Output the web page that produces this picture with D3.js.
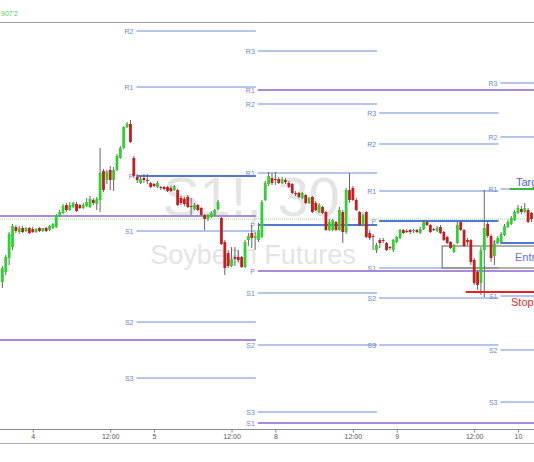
<!DOCTYPE html>
<html><head><meta charset="utf-8">
<script src="https://cdn.jsdelivr.net/npm/d3@7"></script>
<style>html,body{margin:0;padding:0;background:#fff;overflow:hidden}</style>
</head><body>
<script>
// ---- DATA (30-min bars, price in cents) ----
const firstBar = -40;
const opens = [
818,828,842,853,873,868,872,869,872,871,
868,872,869,872,870,872,873,884,887,895,
890,893,896,895,892,894,893,900,896,900,
929,920,930,920,930,942,952,973,976,942,
923,917,922,920,917,916,913,913,913,913,
912,910,910,902,901,903,894,891,895,892,
885,881,883,885,891,882,858,847,834,843,
843,843,833,860,867,862,860,863,900,916,
922,921,921,917,920,917,916,907,907,902,
905,897,903,897,888,893,888,870,870,878,
870,888,868,910,912,900,888,875,888,867,
864,850,860,860,857,853,850,858,862,870,
869,870,869,870,867,871,878,875,871,869,
873,868,863,858,848,857,878,870,860,860,
840,828,817,850,876,864,844,857,858,865,
873,876,880,887,891,888,890,887];
const highs = [
834,845,868,876,875,874,874,873,873,873,
872,873,872,873,875,877,886,890,896,897,
898,898,898,896,897,902,904,902,903,952,
931,930,934,933,946,954,974,978,980,944,
926,924,926,926,918,917,919,914,914,914,
914,915,911,904,903,905,902,897,896,893,
886,886,889,891,900,883,860,850,853,853,
850,844,860,867,875,868,877,900,919,928,
927,928,923,923,922,919,917,909,908,908,
906,903,904,899,897,894,889,881,881,879,
893,890,912,927,914,902,889,887,889,870,
866,857,862,862,858,854,861,864,871,871,
871,871,871,871,873,880,880,876,872,874,
875,869,864,859,856,878,880,871,862,861,
842,830,853,910,878,866,860,864,868,876,
880,884,890,895,894,897,892,888];
const lows = [
812,825,835,850,867,866,867,868,866,867,
867,868,868,868,869,871,872,883,886,888,
889,892,888,891,891,893,892,895,890,888,
908,916,910,909,929,941,951,972,957,922,
917,916,917,916,912,913,912,910,910,908,
908,909,894,895,894,892,885,890,889,884,
870,879,882,884,890,855,825,832,833,834,
838,832,832,854,852,850,858,862,899,914,
915,915,916,916,916,912,906,904,902,901,
896,896,887,889,887,886,869,869,869,869,
869,857,866,897,899,889,874,874,862,860,
850,847,852,857,849,850,848,857,861,866,
867,866,867,867,866,870,874,867,869,868,
866,859,856,851,847,856,869,853,855,835,
815,810,805,803,862,838,835,856,856,864,
872,875,879,886,886,887,877,878];
const closes = [
832,843,866,874,869,872,868,872,867,868,
871,869,872,869,874,876,885,888,894,890,
895,897,889,892,895,898,901,897,901,927,
910,928,920,930,944,952,973,976,958,924,
920,921,920,919,913,914,917,912,911,909,
909,914,895,897,896,893,893,895,890,885,
881,885,887,890,898,856,832,834,841,841,
840,833,858,864,862,864,870,898,917,924,
917,920,917,921,918,913,907,906,903,907,
897,902,888,890,895,887,870,878,880,870,
890,868,910,900,900,890,875,885,863,862,
863,855,857,859,850,852,860,863,870,867,
868,868,870,868,871,878,875,868,870,872,
867,860,857,852,855,875,870,854,858,838,
817,815,850,872,864,842,856,862,866,874,
878,882,888,892,888,892,878,881];

const tickBars   = [-31, -8, 5, 28, 41, 64, 77, 100, 113];
const tickLabels = ["4", "12:00", "5", "12:00", "8", "12:00", "9", "12:00", "10"];

const pivotNames  = ["R3", "R2", "R1", "P", "S1", "S2", "S3"];
const dailyStarts = [0, 36, 72, 108];
const dailyPivots = [
  [1158, 1069, 1013, 924, 869, 778, 722],
  [1049,  996,  927, 875, 807, 755, 688],
  [ 987,  956,  909, 879, 832, 802, 755],
  [1017,  963,  911, 857, 804, 750, 698]
];
const weeklyStarts = [-144, 36];
const weeklyNames  = [["P", "S1"], ["R1", "P", "S1"]];
const weeklyPivots = [[884, 760], [1010, 829, 677]];

const lastPrice = 881;
const targetLevel = 911, targetFrom = 111;
const entryTop = 854, entryBottom = 832, entryFrom = 91;
const stopLevel = 808, stopFrom = 98;
const headerText = "907'2";

// ---- DRAW ----
const W = 534, H = 462;
const svg = d3.select("body").append("svg")
  .attr("width", W).attr("height", H)
  .style("font-family", "'Liberation Sans', Arial, sans-serif");
svg.append("rect").attr("width", W).attr("height", H).attr("fill", "#fff");

const step = 3.37, seg0 = 135.5;
const x = d3.scaleLinear().domain([-40, 118]).range([seg0 - 40 * step, seg0 + 118 * step]);
const y = d3.scaleLinear().domain([638, 1100]).range([462, 0]);

svg.append("defs").append("clipPath").attr("id", "plot")
  .append("rect").attr("x", 0).attr("y", 23).attr("width", W).attr("height", 406);

// header
svg.append("text").attr("x", 1).attr("y", 16)
  .attr("font-size", 7).attr("fill", "#4fcf4f").text(headerText);
svg.append("line").attr("x1", 0).attr("x2", W).attr("y1", 22.5).attr("y2", 22.5)
  .attr("stroke", "#9a9a9a").attr("stroke-width", 1);

const plot = svg.append("g").attr("clip-path", "url(#plot)");

// watermark
plot.append("text").attr("x", 251).attr("y", 216).attr("text-anchor", "middle")
  .attr("font-size", 56).attr("fill", "#e4e4e4").text("S1!, 30");
plot.append("text").attr("x", 253).attr("y", 264).attr("text-anchor", "middle")
  .attr("font-size", 27).attr("fill", "#e4e4e4").text("Soybean Futures");

// weekly pivots
weeklyPivots.forEach((lv, w) => {
  const x0 = x(weeklyStarts[w]);
  const x1 = w + 1 < weeklyStarts.length ? x(weeklyStarts[w + 1]) : W + 10;
  lv.forEach((v, k) => {
    plot.append("line").attr("x1", x0 + 1).attr("x2", x1 - 1)
      .attr("y1", y(v)).attr("y2", y(v))
      .attr("stroke", "#a88ad9").attr("stroke-width", 2);
    if (x0 > 10) {
      plot.append("text").attr("x", x0 - 2).attr("y", y(v) + 2.5)
        .attr("text-anchor", "end").attr("font-size", 7).attr("fill", "#9a78d0")
        .text(weeklyNames[w][k]);
    }
  });
});

// daily pivots
dailyPivots.forEach((lv, d) => {
  const x0 = x(dailyStarts[d]);
  const x1 = x(dailyStarts[d] + 36);
  lv.forEach((v, k) => {
    const isP = pivotNames[k] === "P";
    plot.append("line").attr("x1", x0 + 1).attr("x2", x1 - 1)
      .attr("y1", y(v)).attr("y2", y(v))
      .attr("stroke", isP ? "#5277cf" : "#9db2e4")
      .attr("stroke-width", isP ? 2 : 1.3);
    plot.append("text").attr("x", x0 - 2).attr("y", y(v) + 2.5)
      .attr("text-anchor", "end").attr("font-size", 7).attr("fill", "#6a88d6")
      .text(pivotNames[k]);
  });
});

// last price dotted line
plot.append("line").attr("x1", 0).attr("x2", W)
  .attr("y1", y(lastPrice)).attr("y2", y(lastPrice))
  .attr("stroke", "#8fe38f").attr("stroke-width", 1).attr("stroke-dasharray", "1,1");

// entry box
plot.append("rect").attr("x", x(entryFrom)).attr("y", y(entryTop))
  .attr("width", W + 10 - x(entryFrom)).attr("height", y(entryBottom) - y(entryTop))
  .attr("fill", "none").attr("stroke", "#7a7a7a").attr("stroke-width", 1.2);

// candles
const bars = opens.map((o, k) => ({i: firstBar + k, o, h: highs[k], l: lows[k], c: closes[k]}));
const cg = plot.append("g");
cg.selectAll("line.w").data(bars).join("line").attr("class", "w")
  .attr("x1", d => x(d.i + 0.5)).attr("x2", d => x(d.i + 0.5))
  .attr("y1", d => y(d.h)).attr("y2", d => y(d.l))
  .attr("stroke", "#666").attr("stroke-width", 1);
cg.selectAll("rect.b").data(bars).join("rect").attr("class", "b")
  .attr("x", d => x(d.i + 0.5) - 1.4).attr("width", 2.8)
  .attr("y", d => y(Math.max(d.o, d.c)))
  .attr("height", d => Math.max(1, Math.abs(y(d.o) - y(d.c))))
  .attr("fill", d => d.c >= d.o ? "#2fd12f" : "#c81d1d");

// target / stop
plot.append("line").attr("x1", x(targetFrom)).attr("x2", W)
  .attr("y1", y(targetLevel)).attr("y2", y(targetLevel))
  .attr("stroke", "#3cb84a").attr("stroke-width", 2);
plot.append("line").attr("x1", x(stopFrom)).attr("x2", W)
  .attr("y1", y(stopLevel)).attr("y2", y(stopLevel))
  .attr("stroke", "#e62222").attr("stroke-width", 2);
plot.append("text").attr("x", 516).attr("y", y(targetLevel) - 3)
  .attr("font-size", 11).attr("fill", "#4f63c9").text("Target");
plot.append("text").attr("x", 515).attr("y", (y(entryTop) + y(entryBottom)) / 2 + 4)
  .attr("font-size", 11).attr("fill", "#6a6fd2").text("Entry");
plot.append("text").attr("x", 511).attr("y", y(stopLevel) + 14)
  .attr("font-size", 11).attr("fill", "#e62a2a").text("Stop");

// axis
const axis = d3.axisBottom(x)
  .tickValues(tickBars.map(b => b + 0.5))
  .tickFormat((d, k) => tickLabels[k])
  .tickSize(3).tickPadding(2);
const gA = svg.append("g").attr("transform", "translate(0,429.5)").call(axis);
gA.select(".domain").remove();
gA.selectAll(".tick line").attr("stroke", "#888");
gA.selectAll(".tick text").attr("font-size", 7).attr("fill", "#555")
  .attr("font-family", "'Liberation Sans', Arial, sans-serif");
svg.append("line").attr("x1", 0).attr("x2", W).attr("y1", 429.5).attr("y2", 429.5)
  .attr("stroke", "#8a8a8a");
svg.append("line").attr("x1", 0).attr("x2", W).attr("y1", 443.5).attr("y2", 443.5)
  .attr("stroke", "#b0b0b0");
</script>
</body></html>
